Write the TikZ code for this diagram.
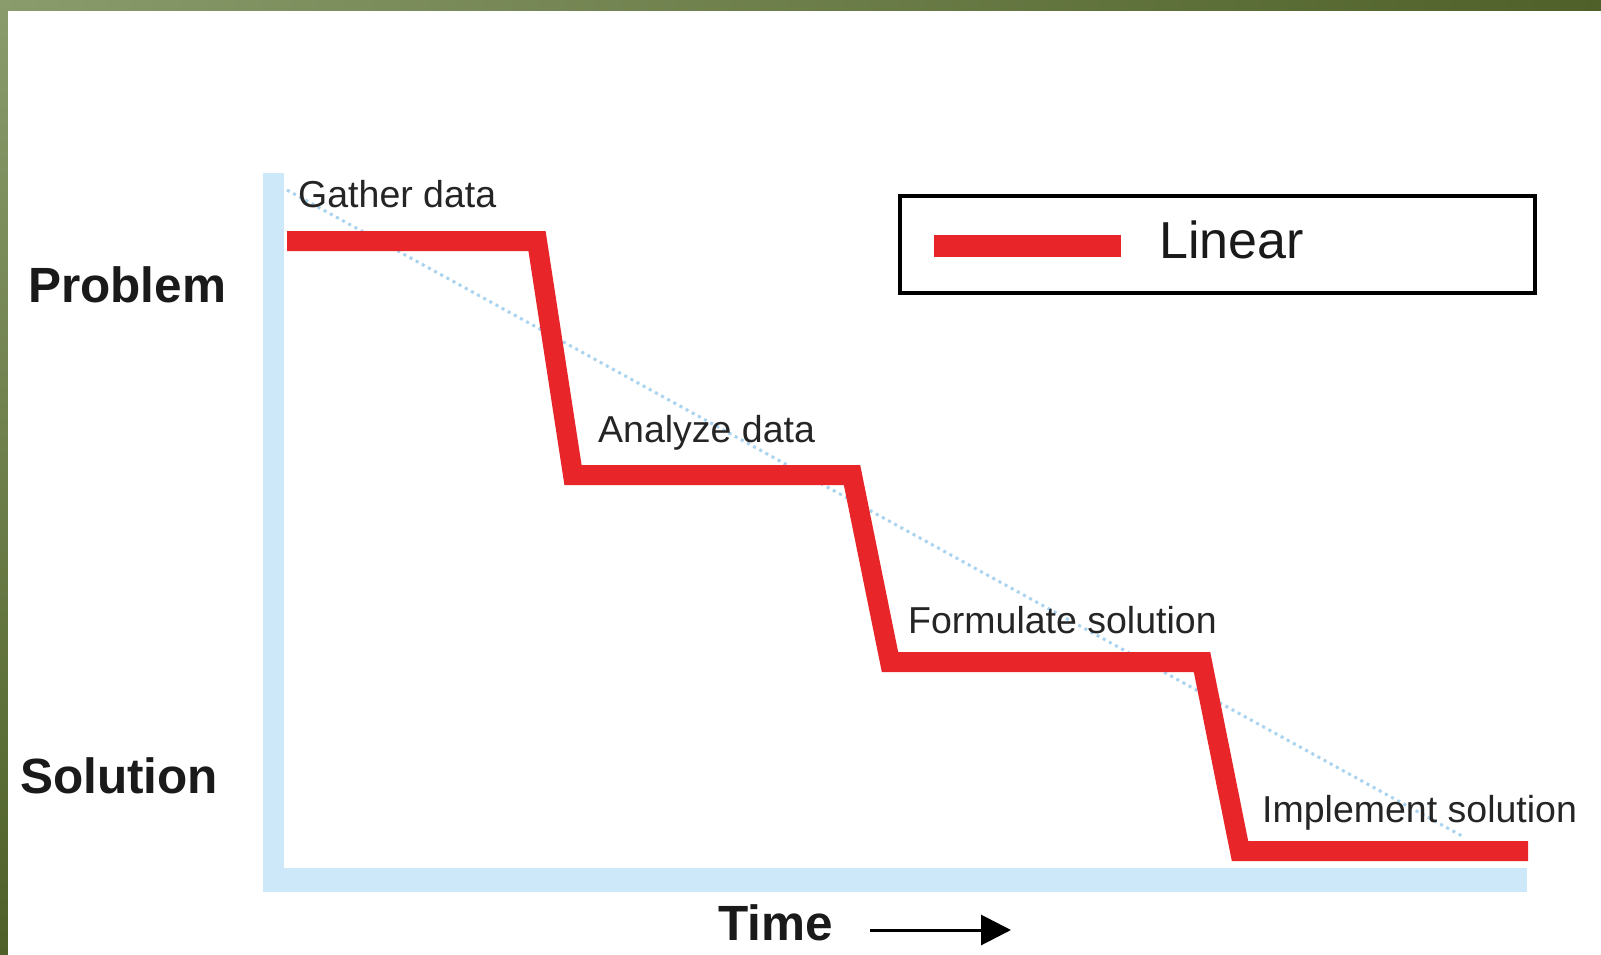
\documentclass[tikz,border=0pt]{standalone}
\usepackage{fontspec}
\setmainfont{Liberation Sans}
\usetikzlibrary{arrows.meta}
\definecolor{redline}{HTML}{E8262A}
\definecolor{axisblue}{HTML}{CDE8F8}
\definecolor{dotblue}{HTML}{A9D3EF}
\definecolor{greenA}{HTML}{8A9B6C}
\definecolor{greenB}{HTML}{4F6128}
\definecolor{txt}{HTML}{1A1A1A}
\begin{document}
\begin{tikzpicture}[x=1pt,y=-1pt,
  bigbold/.style={font=\fontsize{49.5}{58}\selectfont\bfseries, text=txt, inner sep=0pt, anchor=base west},
  steplabel/.style={font=\fontsize{37.5}{44}\selectfont, text=txt!95, inner sep=0pt, anchor=base west},
  legendtext/.style={font=\fontsize{52}{60}\selectfont, text=txt, inner sep=0pt, anchor=base west},
  stair/.style={draw=redline, line width=20pt, line join=miter, line cap=butt},
  axisbar/.style={fill=axisblue, draw=none}]
\useasboundingbox (0,0) rectangle (1601,955);
% background frame
\shade[left color=greenA, right color=greenB] (0,0) rectangle (1601,955);
\shade[top color=greenA, bottom color=greenB] (0,0) rectangle (8,955);
\fill[white] (8,11) rectangle (1601,955);
% axes
\fill[axisbar] (263,173) rectangle (284,892);
\fill[axisbar] (263,868) rectangle (1527,892);
% dotted trend line
\coordinate (d1) at (287,190);
\coordinate (d2) at (1462,836);
\draw[dotblue, line width=3pt, dash pattern=on 3pt off 4pt] (d1) -- (d2);
% red staircase
\coordinate (s0) at (287,241);
\coordinate (s1) at (537,241);
\coordinate (s2) at (573,475);
\coordinate (s3) at (852,475);
\coordinate (s4) at (890,662);
\coordinate (s5) at (1202,662);
\coordinate (s6) at (1240,851);
\coordinate (s7) at (1528,851);
\draw[stair] (s0) -- (s1) -- (s2) -- (s3) -- (s4) -- (s5) -- (s6) -- (s7);
% labels
\node[bigbold] (problem) at (28,302) {Problem};
\node[bigbold] (solution) at (20,793) {Solution};
\node[steplabel] (gather) at (298,207) {Gather data};
\node[steplabel] (analyze) at (598,442) {Analyze data};
\node[steplabel] (formulate) at (908,633) {Formulate solution};
\node[steplabel] (implement) at (1262,822) {Implement solution};
\node[bigbold] (time) at (718,940) {Time};
\coordinate (ta) at (870,930);
\coordinate (tb) at (1011,930);
\draw[line width=3pt, -{Triangle[length=30pt,width=30pt]}] (ta) -- (tb);
% legend
\node[draw=black, line width=4pt, minimum width=635pt, minimum height=97pt, inner sep=0pt, anchor=north west] (legend) at (898,194) {};
\coordinate (l1) at (934,246);
\coordinate (l2) at (1121,246);
\draw[redline, line width=22pt] (l1) -- (l2);
\node[legendtext] (linear) at (1159,258) {Linear};
\end{tikzpicture}
\end{document}
